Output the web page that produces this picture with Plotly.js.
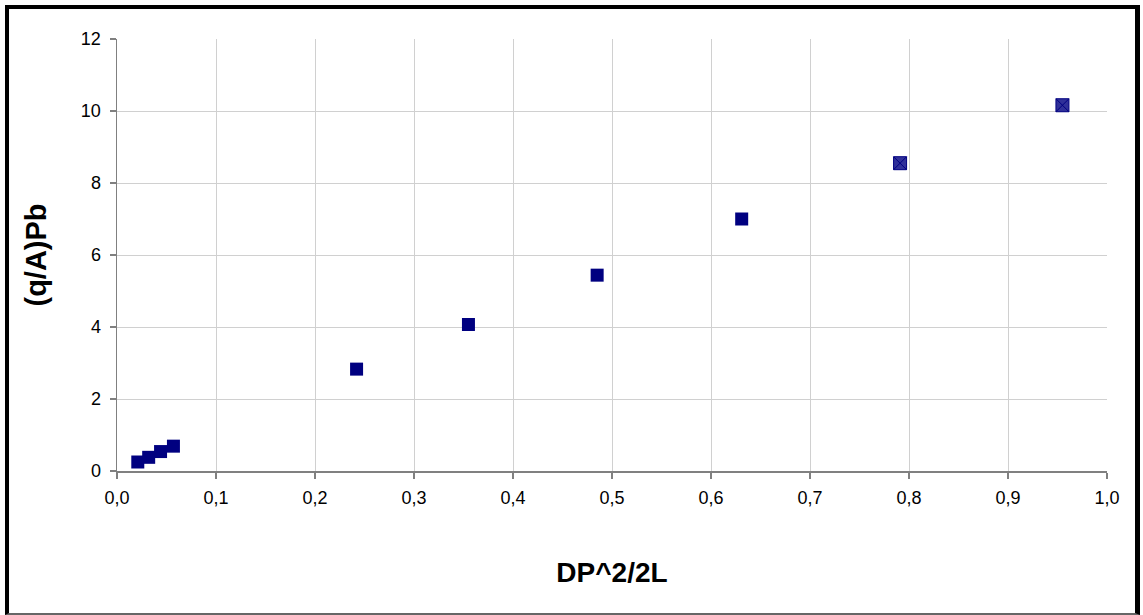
<!DOCTYPE html>
<html>
<head>
<meta charset="utf-8">
<script src="https://cdn.plot.ly/plotly-3.0.1.min.js"></script>
<style>
  html, body { margin: 0; padding: 0; background: #ffffff; }
  #wrap { position: relative; width: 1143px; height: 615px; overflow: hidden; background: #fff; }
  #chart { position: absolute; left: 0; top: 0; width: 1143px; height: 615px; }
  #frame { position: absolute; left: 5px; top: 5px; width: 1126px; height: 604px;
           border-left: 4px solid #000; border-top: 4px solid #000;
           border-right: 5px solid #000; border-bottom: 2px solid #666; pointer-events: none; }
</style>
</head>
<body>
<div id="wrap">
  <div id="chart"></div>
  <div id="frame"></div>
</div>
<script>
// Series 1: square markers
const xSquares = [0.021, 0.032, 0.044, 0.057, 0.242, 0.355, 0.485, 0.631];
const ySquares = [0.25, 0.38, 0.54, 0.69, 2.83, 4.07, 5.44, 7.00];
// Series 2: square-x markers
const xCrossed = [0.791, 0.955];
const yCrossed = [8.55, 10.16];

const xTickVals = [0, 0.1, 0.2, 0.3, 0.4, 0.5, 0.6, 0.7, 0.8, 0.9, 1.0];
const yTickVals = [0, 2, 4, 6, 8, 10, 12];

const FONT = 'Liberation Sans, Arial, sans-serif';

const traces = [
  {
    x: xSquares, y: ySquares, type: 'scatter', mode: 'markers',
    marker: { symbol: 'square', size: 13, color: '#000080',
              line: { color: '#000080', width: 0 } },
    showlegend: false, hoverinfo: 'x+y'
  },
  {
    x: xCrossed, y: yCrossed, type: 'scatter', mode: 'markers',
    marker: { symbol: 'square-x', size: 13, color: '#303099',
              line: { color: '#000080', width: 1 } },
    showlegend: false, hoverinfo: 'x+y'
  }
];

const layout = {
  width: 1143, height: 615,
  margin: { l: 117, r: 36, t: 39, b: 144 },
  paper_bgcolor: '#ffffff', plot_bgcolor: '#ffffff',
  separators: ',.',
  font: { family: FONT, color: '#000', size: 18 },
  xaxis: {
    range: [0, 1], tickvals: xTickVals, tickformat: '.1f',
    showgrid: true, gridcolor: '#d0d0d0', gridwidth: 1,
    showline: true, linecolor: '#808080', linewidth: 1.5,
    ticks: 'outside', ticklen: 6, tickcolor: '#808080', tickwidth: 1.5,
    ticklabelstandoff: 4,
    zeroline: false,
    tickfont: { size: 18, family: FONT },
    title: { text: 'DP^2/2L', standoff: 55,
             font: { size: 28, family: FONT, weight: 'bold' } }
  },
  yaxis: {
    range: [0, 12], tickvals: yTickVals,
    showgrid: true, gridcolor: '#d0d0d0', gridwidth: 1,
    showline: true, linecolor: '#808080', linewidth: 1.5,
    ticks: 'outside', ticklen: 6, tickcolor: '#808080', tickwidth: 1.5,
    ticklabelstandoff: 5,
    zeroline: false,
    tickfont: { size: 18, family: FONT },
    title: { text: '(q/A)Pb', standoff: 25,
             font: { size: 29, family: FONT, weight: 'bold' } }
  }
};

Plotly.newPlot('chart', traces, layout, { displayModeBar: false, staticPlot: true });
</script>
</body>
</html>
